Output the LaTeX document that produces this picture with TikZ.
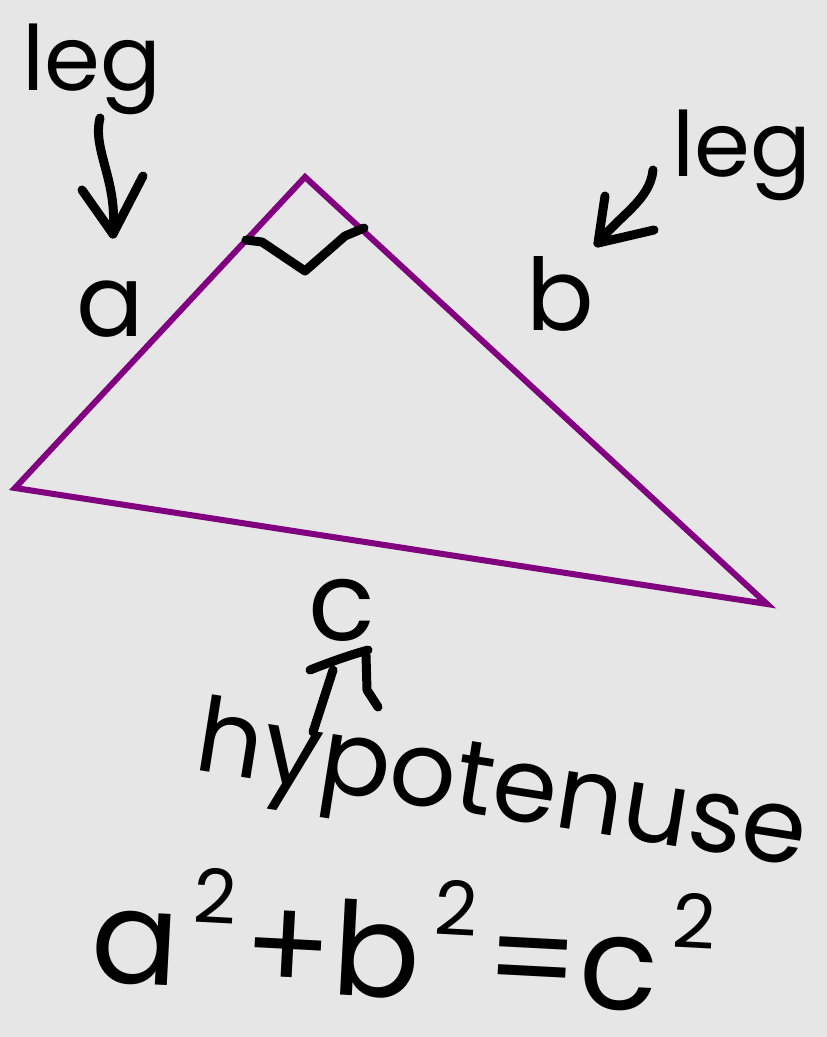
\documentclass[tikz,border=0pt]{standalone}
\usepackage{fontspec}
\setmainfont{Poppins}
\newcommand{\sqsup}{\hspace{12pt}\raisebox{0.5em}{\fontsize{75}{75}\selectfont 2}\hspace{10pt}}
\begin{document}
\begin{tikzpicture}[x=1pt,y=-1pt,
  ink/.style={draw=black,line width=9pt,line cap=round,line join=round},
  tri/.style={line width=6pt,line join=miter},
  hand/.style={text=black,inner sep=0pt,anchor=base},
]
\definecolor{bgc}{HTML}{E6E6E6}
\definecolor{tric}{HTML}{800080}
\fill[bgc] (0,0) rectangle (827,1037);
\useasboundingbox (0,0) rectangle (827,1037);
% triangle
\coordinate (A) at (305,177);
\coordinate (B) at (15,488);
\coordinate (C) at (767,604);
\draw[tri,draw=tric] (A) -- (B) -- (C) -- cycle;
% right angle marker
\draw[ink] (246,240) -- (262,242) -- (305,271) -- (345,236) -- (364,228);
% labels
\node[hand,font=\fontsize{90}{90}\selectfont] (leg1) at (92,90) {leg};
\node[hand,font=\fontsize{90}{90}\selectfont] (leg2) at (742,176) {leg};
\node[hand,font=\fontsize{100}{100}\selectfont] (la) at (110,336) {a};
\node[hand,font=\fontsize{100}{100}\selectfont] (lb) at (560,330) {b};
\node[hand,font=\fontsize{110}{110}\selectfont] (lc) at (342,640) {c};
\node[hand,font=\fontsize{104}{104}\selectfont,rotate=-9] (hyp) at (497,818) {hypotenuse};
\node[hand,font=\fontsize{130}{130}\selectfont,rotate=-3] (eq) at (400,998) {a\sqsup+b\sqsup=c\sqsup};
% arrows
\coordinate (t1) at (100,118);
\coordinate (h1) at (113,234);
\draw[ink] (t1) .. controls (92,150) and (118,180) .. (h1);
\draw[ink] (82,190) -- (h1) -- (143,176);
\coordinate (t2) at (653,170);
\coordinate (h2) at (598,243);
\draw[ink] (t2) .. controls (650,200) and (620,215) .. (h2);
\draw[ink] (605,196) -- (h2) -- (654,230);
\coordinate (h3a) at (310,670);
\coordinate (h3b) at (368,650);
\draw[ink] (h3a) .. controls (330,662) and (350,655) .. (h3b);
\draw[ink] (333,670) -- (313,732);
\draw[ink] (366,655) -- (367,690) -- (378,707);
\end{tikzpicture}
\end{document}
